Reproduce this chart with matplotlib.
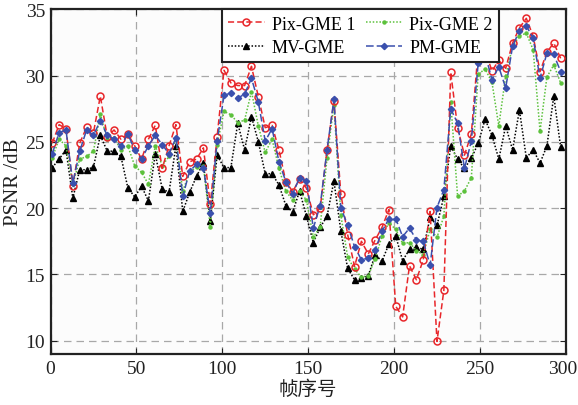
import matplotlib
matplotlib.use("Agg")
import matplotlib.pyplot as plt
from matplotlib.transforms import ScaledTranslation

frames = list(range(1, 298, 4))

pix_gme1 = [24.9, 26.3, 26.0, 21.7, 24.9, 26.1, 25.7, 28.45, 25.4, 25.9,
            25.2, 25.6, 24.7, 23.7, 25.2, 26.25, 23.0, 24.7, 26.3, 22.4,
            23.5, 23.7, 24.55, 20.3, 25.4, 30.4, 29.45, 29.25, 29.25, 30.7,
            28.4, 26.07, 26.24, 24.4, 22.0, 21.25, 22.2, 21.5, 19.5, 20.0,
            24.4, 28.1, 21.1, 18.0, 15.6, 17.5, 16.55, 17.6, 18.55, 19.9,
            12.6, 11.8, 15.66, 14.6, 16.1, 19.75, 9.95, 13.8, 30.25, 26.07,
            24.0, 25.6, 31.95, 31.9, 30.35, 31.15, 30.55, 32.45, 33.6, 34.32,
            32.97, 30.3, 31.77, 32.46, 31.3]

pix_gme2 = [23.8, 25.2, 24.7, 21.8, 23.7, 23.9, 24.3, 27.1, 25.2, 25.3,
            24.4, 24.7, 23.2, 22.7, 21.8, 24.7, 23.2, 23.9, 25.2, 21.3,
            22.7, 23.1, 23.2, 18.6, 24.8, 27.3, 27.05, 26.45, 26.65, 28.8,
            26.2, 24.2, 25.2, 23.0, 21.3, 20.6, 21.3, 20.6, 17.8, 18.6,
            23.8, 27.8, 19.5, 16.3, 15.4, 14.8, 14.9, 16.2, 17.9, 18.9,
            18.4, 17.35, 17.4, 16.8, 16.5, 18.4, 17.8, 19.4, 28.0, 20.9,
            21.3, 22.3, 30.1, 30.5, 29.5, 26.2, 30.0, 32.2, 33.0, 33.2,
            31.95, 25.8, 29.9, 30.8, 29.45]

mv_gme = [23.06, 23.7, 24.4, 20.75, 22.9, 22.9, 23.1, 25.5, 24.3, 24.3,
          23.9, 21.55, 20.85, 21.65, 20.55, 24.1, 21.45, 21.2, 24.7, 19.75,
          21.2, 22.4, 23.4, 19.0, 24.0, 23.06, 23.06, 26.4, 24.4, 26.9,
          25.0, 22.6, 22.6, 21.75, 20.2, 19.7, 21.3, 19.4, 17.4, 18.55,
          19.4, 22.05, 18.3, 15.45, 14.6, 14.7, 14.9, 16.5, 16.0, 17.3,
          17.9, 16.04, 16.9, 17.05, 16.9, 19.3, 18.7, 20.9, 24.7, 23.7,
          23.0, 23.75, 24.9, 26.7, 25.5, 23.7, 26.2, 24.4, 27.4, 23.8,
          24.4, 23.4, 24.7, 28.45, 24.6]

pm_gme = [24.1, 25.7, 25.9, 21.9, 24.3, 25.9, 25.5, 26.6, 25.5, 25.2,
          24.7, 25.6, 24.4, 23.7, 24.7, 25.5, 24.8, 24.1, 25.3, 20.9,
          22.8, 23.3, 23.06, 19.6, 25.06, 28.5, 28.7, 28.3, 28.6, 29.8,
          28.0, 25.06, 26.0, 23.5, 22.0, 21.1, 22.3, 22.05, 18.5, 20.2,
          24.4, 28.2, 20.05, 18.7, 17.1, 16.1, 16.26, 16.87, 18.25, 19.2,
          19.2, 17.85, 18.5, 17.6, 17.5, 15.7, 20.05, 21.4, 27.5, 26.4,
          23.0, 25.06, 30.95, 31.65, 29.7, 30.65, 29.07, 32.2, 33.4, 33.76,
          32.8, 29.8, 31.7, 31.6, 30.3]

labels = ["Pix-GME 1", "Pix-GME 2", "MV-GME", "PM-GME"]
xticks = [0, 50, 100, 150, 200, 250, 300]
yticks = [10, 15, 20, 25, 30, 35]

serif = ["Liberation Serif", "DejaVu Serif"]
plt.rcParams["font.family"] = serif

fig = plt.figure(figsize=(5.78, 4.06), dpi=100)
ax = fig.add_axes([0.0874, 0.1256, 0.8915, 0.849])
ax.set_facecolor("#fcfcfc")

h1, = ax.plot(frames, pix_gme1, color="#e8262a", linestyle=(0, (4, 2)), linewidth=1.1,
              marker="o", markersize=5, markerfacecolor="none", markeredgecolor="#e8262a",
              markeredgewidth=1.1, label=labels[0], zorder=4)
h2, = ax.plot(frames, pix_gme2, color="#5cc13c", linestyle=(0, (1, 1.2)), linewidth=1.1,
              marker="o", markersize=2.2, markerfacecolor="#5cc13c", markeredgecolor="#5cc13c",
              label=labels[1], zorder=3)
h3, = ax.plot(frames, mv_gme, color="black", linestyle=(0, (1, 1.2)), linewidth=1.1,
              marker="^", markersize=4.5, markerfacecolor="black", markeredgecolor="black",
              label=labels[2], zorder=2)
h4, = ax.plot(frames, pm_gme, color="#3a50ad", linestyle=(0, (5, 2)), linewidth=1.1,
              marker="D", markersize=3.2, markerfacecolor="#3a50ad", markeredgecolor="#3a50ad",
              label=labels[3], zorder=5)

ax.set_xlim(0, 300)
ax.set_ylim(9, 35)
ax.set_xticks(xticks)
ax.set_yticks(yticks)
ax.tick_params(axis="both", which="both", direction="in", length=4, width=0.8,
               colors="#222222", labelsize=14, top=True, right=True, pad=4)
ax.grid(True, color="#a8a8a8", linestyle=(0, (6, 4)), linewidth=0.9)
ax.set_axisbelow(True)
for sp in ax.spines.values():
    sp.set_linewidth(1.6)
    sp.set_color("#222222")

# nudge the last x tick label so it stays inside the figure
last = ax.get_xticklabels()[-1]
last.set_transform(last.get_transform() + ScaledTranslation(-3 / 100, 0, fig.dpi_scale_trans))

ax.set_ylabel("PSNR /dB", fontsize=15, color="#222222", labelpad=2)
ax.set_xlabel("帧序号", fontsize=14, color="#222222",
              family=["Noto Sans CJK SC", "DejaVu Sans"], labelpad=1)

leg = ax.legend([h1, h3, h2, h4], [labels[0], labels[2], labels[1], labels[3]],
                loc="upper left", bbox_to_anchor=(0.333, 1.0), borderaxespad=0,
                ncol=2, fontsize=13, frameon=True, fancybox=False, framealpha=1,
                edgecolor="#222222", handlelength=2.0, handletextpad=0.4,
                columnspacing=0.6, labelspacing=0.35, borderpad=0.35)
leg.get_frame().set_linewidth(1.5)

fig.savefig("out.png", dpi=100, facecolor="white")
